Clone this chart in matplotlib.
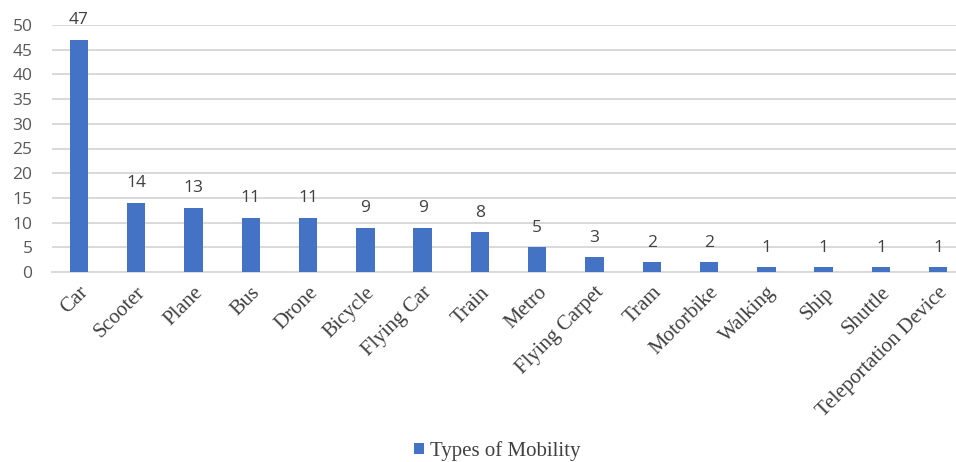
import matplotlib.pyplot as plt
import numpy as np

modes = ["Car", "Scooter", "Plane", "Bus", "Drone", "Bicycle", "Flying Car",
         "Train", "Metro", "Flying Carpet", "Tram", "Motorbike", "Walking",
         "Ship", "Shuttle", "Teleportation Device"]
counts = [47, 14, 13, 11, 11, 9, 9, 8, 5, 3, 2, 2, 1, 1, 1, 1]
yticks = [0, 5, 10, 15, 20, 25, 30, 35, 40, 45, 50]

bar_color = "#4472C4"
text_gray = "#404040"

fig = plt.figure(figsize=(9.56, 4.62), dpi=100)
ax = fig.add_axes([52 / 956, 1 - 272 / 462, 1 - 52 / 956, (272 - 25) / 462])

x = np.arange(len(modes))
bars = ax.bar(x, counts, width=0.32, color=bar_color, zorder=3,
              label="Types of Mobility")

for xi, v in zip(x, counts):
    ax.text(xi, v + 2.3, str(v), ha="center", va="bottom", fontsize=12.5,
            color=text_gray, family="Open Sans", clip_on=False)

ax.set_xlim(-0.47, 15.31)
ax.set_ylim(0, 50)
ax.set_yticks(yticks)
ax.set_yticklabels([str(t) for t in yticks], fontsize=12.5, color="#595959",
                   family="Open Sans")
ax.yaxis.grid(True, color="#d9d9d9", linewidth=1.4, zorder=0)
ax.set_axisbelow(True)
ax.tick_params(axis="both", length=0)
ax.tick_params(axis="y", pad=14)

ax.set_xticks(x)
ax.set_xticklabels(modes, rotation=45, ha="right", rotation_mode="anchor",
                   fontsize=15, color=text_gray, family="Liberation Serif")
ax.tick_params(axis="x", pad=8)

for s in ["top", "right", "left"]:
    ax.spines[s].set_visible(False)
ax.spines["bottom"].set_color("#d9d9d9")
ax.spines["bottom"].set_linewidth(1.4)

fig.legend(handles=[bars], loc="center", bbox_to_anchor=(0.52, 1 - 451 / 462),
           frameon=False, prop={"family": "Liberation Serif", "size": 15},
           handlelength=0.5, handleheight=0.5, handletextpad=0.3,
           labelcolor=text_gray)

fig.savefig("out.png", dpi=100)
